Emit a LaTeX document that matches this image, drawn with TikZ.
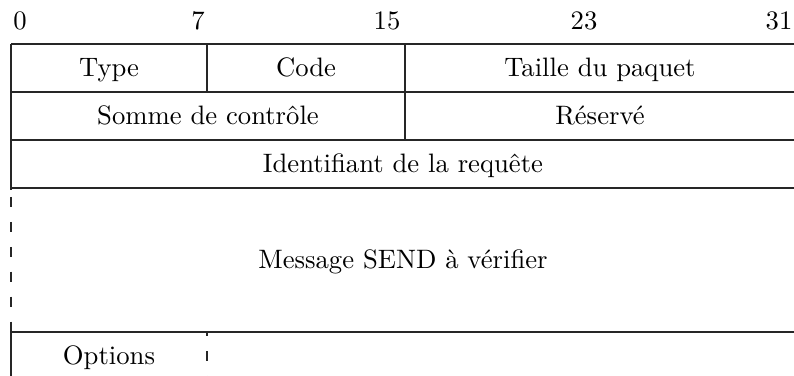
\documentclass[tikz,border=0pt]{standalone}
\begin{document}
\begin{tikzpicture}[x=0.375pt,y=-0.375pt,
  grid/.style={line width=0.4pt, black!85},
  dashgrid/.style={grid, dash pattern=on 3.75pt off 5.6pt},
  field/.style={anchor=base, inner sep=0pt},
  bitlbl/.style={anchor=base, inner sep=0pt}]
\useasboundingbox (0,0) rectangle (794,376);
\clip (0,0) rectangle (794,376);
% bit labels
\node[bitlbl] (b0) at (20,30) {0};
\node[bitlbl] (b7) at (198,30) {7};
\node[bitlbl] (b15) at (387,30) {15};
\node[bitlbl] (b23) at (584,30) {23};
\node[bitlbl] (b31) at (779,30) {31};
% horizontal lines
\draw[grid] (11,44) -- (797,44);
\draw[grid] (11,92) -- (797,92);
\draw[grid] (11,140) -- (797,140);
\draw[grid] (11,188) -- (797,188);
\draw[grid] (11,332) -- (797,332);
\draw[grid] (11,380) -- (797,380);
% vertical lines
\draw[grid] (11,44) -- (11,190);
\draw[dashgrid, dash phase=6pt] (11,188) -- (11,332);
\draw[grid] (11,330) -- (11,380);
\draw[grid] (797,44) -- (797,188);
\draw[grid] (207,44) -- (207,92);
\draw[grid] (405,44) -- (405,140);
\draw[dashgrid, dash phase=2.2pt] (207,332) -- (207,380);
% fields
\node[field] (type) at (109,77) {Type};
\node[field] (code) at (306,77) {Code};
\node[field] (taille) at (600,77) {Taille du paquet};
\node[field] (somme) at (208,125) {Somme de contrôle};
\node[field] (reserve) at (600,125) {Réservé};
\node[field] (ident) at (403,173) {Identifiant de la requête};
\node[field] (msg) at (403,269) {Message SEND à vérifier};
\node[field] (opt) at (109,365) {Options};
\end{tikzpicture}
\end{document}
